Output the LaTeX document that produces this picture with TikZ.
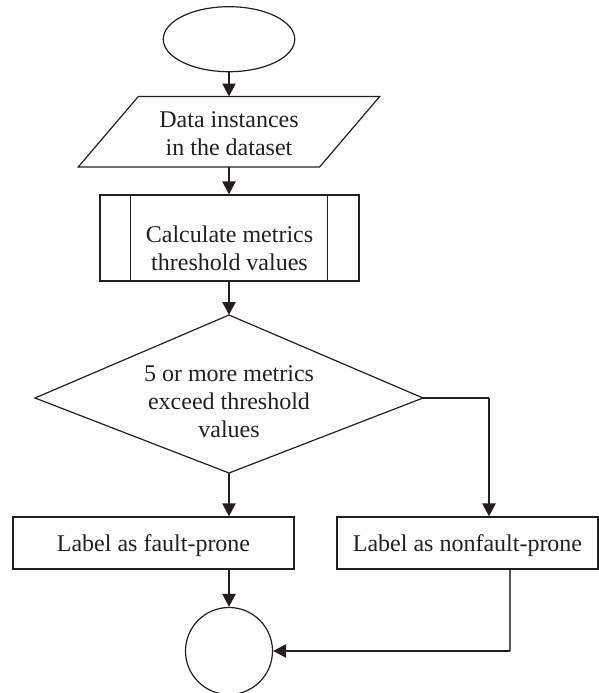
\documentclass[tikz,border=0pt]{standalone}
\usepackage{fontspec}
\setmainfont{Liberation Serif}
\usetikzlibrary{shapes.geometric,arrows.meta}
\definecolor{ink}{RGB}{35,31,32}
\begin{document}
\begin{tikzpicture}[x=1pt,y=-1pt,
  shapeline/.style={draw=ink,line width=1.2pt},
  txt/.style={font=\fontsize{24}{28}\selectfont,text=ink,align=center,inner sep=0pt},
  arr/.style={draw=ink,line width=2.3pt,-{Triangle[length=13pt,width=13pt]}},
  thinln/.style={draw=ink,line width=1.2pt},
  boxnode/.style={shapeline,rectangle,minimum height=52pt,inner sep=0pt,
    font=\fontsize{24}{28}\selectfont,text=ink,text height=18pt,text depth=0.6pt}]
\useasboundingbox (0,0) rectangle (599,693);
% start ellipse
\node[shapeline,ellipse,minimum width=131.5pt,minimum height=65pt,inner sep=0pt] (start) at (229,39.2) {};
% data parallelogram
\node[minimum width=241pt,minimum height=70pt,inner sep=0pt] (data) at (229,131.7) {};
\draw[shapeline] ([xshift=-30pt]data.south west) -- ([xshift=30pt]data.north west)
  -- ([xshift=30pt]data.north east) -- ([xshift=-30pt]data.south east) -- cycle;
\node[txt] (datatxt) at (229,134) {Data instances\\in the dataset};
% predefined process
\node[shapeline,rectangle,minimum width=259pt,minimum height=86pt,inner sep=0pt] (calc) at (229.5,238) {};
\draw[shapeline] ([xshift=31pt]calc.north west) -- ([xshift=31pt]calc.south west);
\draw[shapeline] ([xshift=-32pt]calc.north east) -- ([xshift=-32pt]calc.south east);
\node[txt] (calctxt) at (229.5,248.5) {Calculate metrics\\threshold values};
% decision diamond
\coordinate (dT) at (229,315);
\coordinate (dL) at (35,398);
\coordinate (dB) at (229,473);
\coordinate (dR) at (423,398);
\draw[shapeline] (dT) -- (dR) -- (dB) -- (dL) -- cycle;
\node[txt] (dectxt) at (229,402) {5 or more metrics\\exceed threshold\\values};
% result boxes
\node[boxnode,minimum width=281pt] (fp) at (153.5,543) {Label as fault-prone};
\node[boxnode,minimum width=261pt] (nfp) at (467.5,543) {Label as nonfault-prone};
% end circle
\node[shapeline,circle,minimum size=87pt,inner sep=0pt] (end) at (229,651) {};
% connectors
\draw[arr] (start.south) -- (data.north);
\draw[arr] (data.south) -- (data.south |- calc.north);
\draw[arr] (calc.south -| dT) -- (dT);
\draw[arr] (dB) -- (dB |- fp.north);
\coordinate (r1) at (489,398);
\draw[thinln] (dR) -- (r1);
\draw[arr] (r1) -- (r1 |- nfp.north);
\draw[arr] (fp.south -| end.north) -- (end.north);
\coordinate (r2) at (510,651);
\draw[thinln,draw=ink!75] (nfp.south -| r2) -- (r2);
\draw[arr] (r2) -- (end.east);
\end{tikzpicture}
\end{document}
